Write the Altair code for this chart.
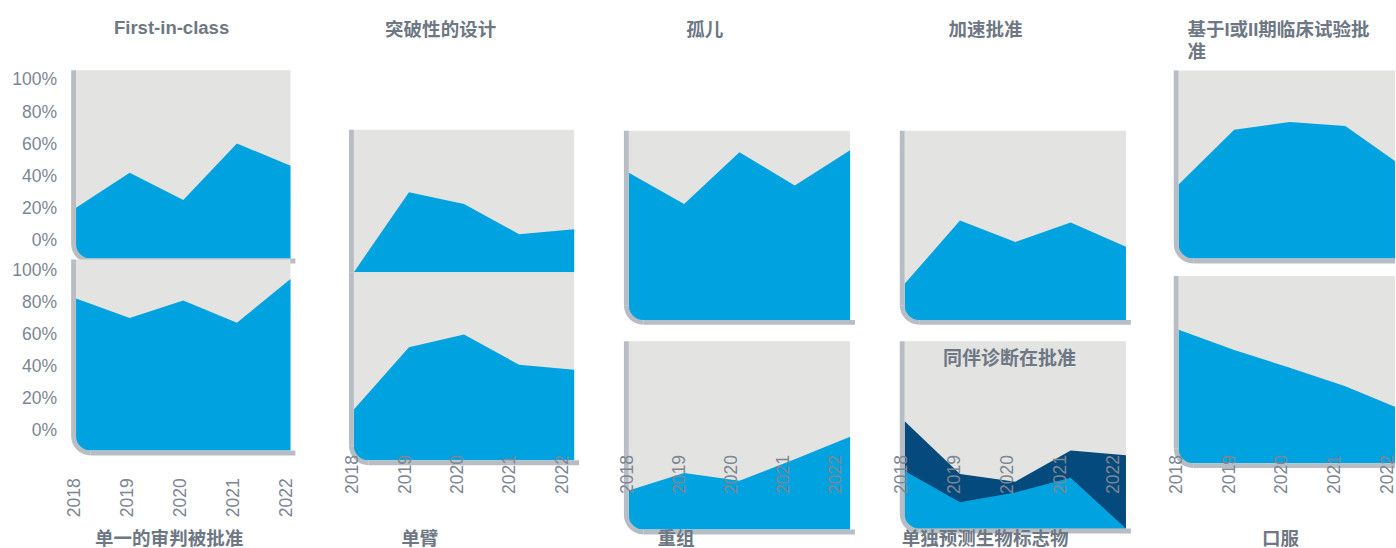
import math
import altair as alt
import pandas as pd

# ---------------- data (shares, %) ----------------
years = [2018, 2019, 2020, 2021, 2022]

first_in_class = [20.6, 42.4, 25.5, 60.6, 46.7]
single_trial = [82.4, 70.3, 81.2, 67.3, 94.5]
breakthrough = [0.0, 49.7, 42.4, 23.6, 26.7]
single_arm = [20.0, 58.8, 66.7, 47.9, 44.8]
orphan = [80.0, 60.6, 92.7, 72.1, 93.9]
recombinant = [12.7, 23.6, 18.8, 32.1, 46.1]
accelerated = [10.9, 50.3, 37.0, 49.1, 33.9]
companion_dx = [66.7, 33.9, 29.1, 48.5, 45.5]
biomarker_only = [35.8, 16.4, 22.4, 31.5, 0.0]
phase_1_2 = [34.5, 68.5, 73.3, 70.9, 46.5]
oral = [71.5, 58.8, 47.9, 36.4, 22.1]

top_titles = ["First-in-class", "突破性的设计", "孤儿", "加速批准", ["基于I或II期临床试验批", "准"]]
bottom_titles = ["单一的审判被批准", "单臂", "重组", "单独预测生物标志物", "口服"]
companion_title = "同伴诊断在批准"
y_ticks = [0, 20, 40, 60, 80, 100]

# ---------------- styles ----------------
FONT = "Liberation Sans, Noto Sans CJK SC, sans-serif"
BLUE = "#00a3e0"
NAVY = "#054a7c"
PANEL = "#e3e3e2"
EDGE = "#b8bdc4"
TITLE_GREY = "#6e7784"
LABEL_GREY = "#7d8693"
TITLE_SIZE = 19

# series per column: (top panel, bottom panel) -> list of (values, colour)
series = [
    ([(first_in_class, BLUE)], [(single_trial, BLUE)]),
    ([(breakthrough, BLUE)], [(single_arm, BLUE)]),
    ([(orphan, BLUE)], [(recombinant, BLUE)]),
    ([(accelerated, BLUE)], [(companion_dx, NAVY), (biomarker_only, BLUE)]),
    ([(phase_1_2, BLUE)], [(oral, BLUE)]),
]

# ---------------- layout (pixels) ----------------
VIEW_TOP = 62
VIEW_H = 473
PX100 = 165
R = 15
BW = 5

layout = [
    dict(left=72, width=276, data=(77, 297), labels=(76, 293), label_top=480,
         t_anchor="middle", t_dx=-35, t_off=31, b_x=172, b_pad=13, clip=False,
         panels=[dict(top=62, bottom=255, zero=237, corner=True),
                 dict(top=256, bottom=452, zero=432, corner=True)]),
    dict(left=348, width=274, data=(354, 580), labels=(353, 568), label_top=456,
         t_anchor="middle", t_dx=-42, t_off=31, b_x=421, b_pad=37, clip=False,
         panels=[dict(top=123, bottom=269, zero=269, corner=False),
                 dict(top=269, bottom=462, zero=443, corner=True)]),
    dict(left=622, width=274, data=(627, 854), labels=(626, 839), label_top=456,
         t_anchor="middle", t_dx=-54, t_off=31, b_x=675, b_pad=37, clip=False,
         panels=[dict(top=124, bottom=318, zero=299, corner=True),
                 dict(top=340, bottom=533, zero=514, corner=True)]),
    dict(left=896, width=272, data=(901, 1128), labels=(898, 1115), label_top=456,
         t_anchor="middle", t_dx=-48, t_off=31, b_x=983, b_pad=37, clip=False,
         panels=[dict(top=124, bottom=318, zero=299, corner=True),
                 dict(top=340, bottom=532, zero=532, corner=True)]),
    dict(left=1168, width=228, data=(1174, 1402), labels=(1172, 1388), label_top=456,
         t_anchor="start", t_dx=15, t_off=9, b_x=1278, b_pad=37, clip=True,
         panels=[dict(top=62, bottom=255, zero=236, corner=True),
                 dict(top=273, bottom=465, zero=446, corner=True)]),
]


def one():
    return alt.Data(values=[{}])


def panel_layers(col, p, ser, yaxis=None, inner_text=None):
    xs = alt.Scale(domain=[years[0], years[-1]],
                   range=[col["data"][0] - col["left"], col["data"][1] - col["left"]],
                   nice=False, zero=False)
    lo = (p["zero"] - p["bottom"]) / PX100 * 100
    hi = (p["zero"] - p["top"]) / PX100 * 100
    ys = alt.Scale(domain=[lo, hi],
                   range=[p["bottom"] - VIEW_TOP, p["top"] - VIEW_TOP],
                   nice=False, zero=False)
    clip = col["clip"]

    def X(v):
        return alt.XDatum(v, scale=xs, axis=None)

    def Y(v):
        return alt.YDatum(v, scale=ys, axis=None)

    L = []
    # panel background
    L.append(alt.Chart(one()).mark_rect(color=PANEL, clip=clip).encode(
        x=X(years[0]), x2=alt.X2Datum(years[-1]), y=Y(hi), y2=alt.Y2Datum(lo)))
    # areas
    for i, (vals, colour) in enumerate(ser):
        df = pd.DataFrame({"year": years, "share": vals})
        ax = yaxis if (yaxis is not None and i == 0) else None
        L.append(alt.Chart(df).mark_area(color=colour, opacity=1, clip=clip).encode(
            x=alt.X("year:Q", scale=xs, axis=None),
            y=alt.Y("share:Q", scale=ys, axis=ax),
            y2=alt.Y2Datum(lo)))
    # left edge
    rule_kw = dict(color=EDGE, strokeWidth=BW, xOffset=-BW / 2, clip=clip)
    if p["corner"]:
        rule_kw["y2Offset"] = -R
    L.append(alt.Chart(one()).mark_rule(**rule_kw).encode(
        x=X(years[0]), y=Y(hi), y2=alt.Y2Datum(lo)))
    if p["corner"]:
        # bottom edge
        L.append(alt.Chart(one()).mark_rule(color=EDGE, strokeWidth=BW, yOffset=BW / 2,
                                            xOffset=R, x2Offset=BW, clip=clip).encode(
            x=X(years[0]), x2=alt.X2Datum(years[-1]), y=Y(lo)))
        # rounded corner: white mask outside, grey curved edge
        L.append(alt.Chart(one()).mark_arc(color="white", innerRadius=R + BW - 0.5,
                                           outerRadius=(R + BW) * 1.45,
                                           xOffset=R, yOffset=-R).encode(
            x=X(years[0]), y=Y(lo),
            theta=alt.value(math.pi), theta2=alt.value(1.5 * math.pi)))
        L.append(alt.Chart(one()).mark_arc(color=EDGE, innerRadius=R,
                                           outerRadius=R + BW,
                                           xOffset=R, yOffset=-R).encode(
            x=X(years[0]), y=Y(lo),
            theta=alt.value(math.pi), theta2=alt.value(1.5 * math.pi)))
    if inner_text is not None:
        L.append(alt.Chart(one()).mark_text(font=FONT, fontSize=19.5, fontWeight="bold",
                                            color=TITLE_GREY, align="center",
                                            baseline="middle", dx=-6, dy=18).encode(
            x=X(2020), y=Y(hi), text=alt.value(inner_text)))
    return L


columns = []
for ci, col in enumerate(layout):
    layers = []
    for pi, p in enumerate(col["panels"]):
        yaxis = None
        if ci == 0:
            yaxis = alt.Axis(values=y_ticks, labelExpr="datum.value + '%'", orient="left",
                             labelFont=FONT, labelFontSize=18, labelColor=LABEL_GREY,
                             labelPadding=15, ticks=False, domain=False, grid=False,
                             title=None, labelFlush=False, labelOverlap=False, zindex=1)
        inner = companion_title if (ci == 3 and pi == 1) else None
        layers += panel_layers(col, p, series[ci][pi], yaxis, inner)

    xaxis = alt.Axis(values=years, format="d", orient="bottom", labelAngle=270,
                     labelFont=FONT, labelFontSize=18, labelColor=LABEL_GREY,
                     labelPadding=2, labelFlush=False, labelOverlap=False,
                     ticks=False, domain=False, grid=False,
                     offset=col["label_top"] - (VIEW_TOP + VIEW_H) - 2,
                     title=bottom_titles[ci], titleFont=FONT, titleFontSize=TITLE_SIZE,
                     titleFontWeight="bold", titleColor=TITLE_GREY,
                     titlePadding=col["b_pad"], titleX=col["b_x"] - col["left"],
                     titleAlign="center", zindex=1)
    carrier = alt.Chart(pd.DataFrame({"year": years})).mark_point(opacity=0).encode(
        x=alt.X("year:Q",
                scale=alt.Scale(domain=[years[0], years[-1]],
                                range=[col["labels"][0] - col["left"], col["labels"][1] - col["left"]],
                                nice=False, zero=False),
                axis=xaxis))
    layers.append(carrier)

    title = alt.TitleParams(text=top_titles[ci], font=FONT, fontSize=TITLE_SIZE, fontWeight="bold",
                            color=TITLE_GREY, anchor=col["t_anchor"], frame="group",
                            dx=col["t_dx"], offset=col["t_off"], lineHeight=22)
    columns.append(
        alt.layer(*layers)
        .resolve_scale(x="independent", y="independent")
        .properties(width=col["width"], height=VIEW_H, title=title)
    )

chart = (
    alt.hconcat(*columns, spacing=0)
    .properties(padding={"left": 11, "top": 12, "right": 0, "bottom": 0})
    .configure_view(strokeWidth=0)
)

chart.save("out.html", embed_options={"renderer": "svg", "actions": False})
